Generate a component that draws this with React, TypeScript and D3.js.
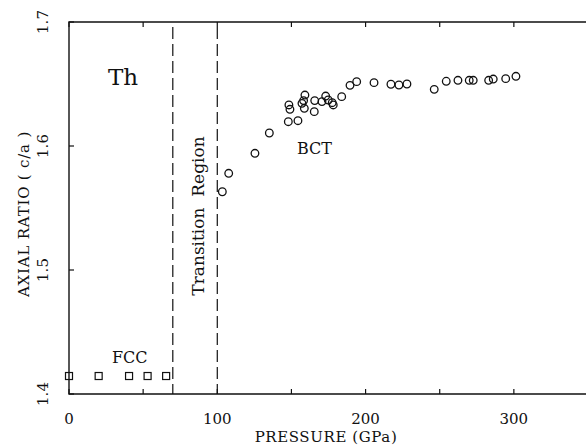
import React from "react";
import * as d3 from "d3";

const fccPressure = [0, 20, 40.5, 53, 65.5];
const fccRatio = [1.4145, 1.4145, 1.4145, 1.4145, 1.4145];

const bctPressure = [103.4, 107.7, 125.4, 135.1, 147.9, 154.4, 148.3, 149.0, 157.1, 159.1, 158.7, 158.2, 165.4, 165.7, 170.6, 173.1, 174.8, 177.5, 178.2, 183.9, 189.5, 194.0, 205.7, 217.1, 222.5, 227.9, 246.3, 254.4, 262.3, 269.9, 272.6, 283.0, 286.1, 294.5, 301.4];
const bctRatio = [1.5631, 1.578, 1.5941, 1.6105, 1.6196, 1.6204, 1.6331, 1.6296, 1.6344, 1.6411, 1.6304, 1.6366, 1.6277, 1.6366, 1.6358, 1.6403, 1.6371, 1.6349, 1.6331, 1.6398, 1.6489, 1.6519, 1.6511, 1.6498, 1.6492, 1.65, 1.6457, 1.6522, 1.653, 1.653, 1.653, 1.653, 1.654, 1.6543, 1.6562];

const xTicks = [0, 50, 100, 150, 200, 250, 300];
const xTickLabels = [0, 100, 200, 300];
const yTicks = [1.4, 1.5, 1.6, 1.7];
const transitionBounds = [70, 100];

const FONT = "'DejaVu Serif', serif";

export default function App() {
  const x = d3.scaleLinear().domain([0, 350]).range([69, 588]);
  const y = d3.scaleLinear().domain([1.4, 1.7]).range([394, 22]);
  const x0 = x(0), x1 = x(350), y0 = y(1.4), y1 = y(1.7);
  const ink = "#111";
  return (
    <svg width={586} height={446} style={{ position: "absolute", left: 0, top: 0, background: "#fff" }}>
      <path d={`M${x1},${y1}H${x0}V${y0}H${x1}`} fill="none" stroke={ink} strokeWidth={1.4} />
      {xTicks.map((t) => (
        <g key={"xt" + t}>
          <line x1={x(t)} x2={x(t)} y1={y0} y2={y0 - 5} stroke={ink} strokeWidth={1.2} />
          <line x1={x(t)} x2={x(t)} y1={y1} y2={y1 + 5} stroke={ink} strokeWidth={1.2} />
        </g>
      ))}
      {yTicks.map((t) => (
        <line key={"yt" + t} x1={x0} x2={x0 + 5} y1={y(t)} y2={y(t)} stroke={ink} strokeWidth={1.2} />
      ))}
      {xTickLabels.map((t) => (
        <text key={"xl" + t} x={x(t)} y={424} textAnchor="middle" fontFamily={FONT} fontSize={15} fill={ink}>
          {t}
        </text>
      ))}
      {yTicks.map((t) => (
        <text key={"yl" + t} transform={`translate(48,${y(t)}) rotate(-90)`} textAnchor="middle" fontFamily={FONT} fontSize={15} fill={ink}>
          {t.toFixed(1)}
        </text>
      ))}
      <text x={326} y={442} textAnchor="middle" fontFamily={FONT} fontSize={15} letterSpacing={0.6} fill={ink}>
        PRESSURE (GPa)
      </text>
      <text transform={`translate(29,214) rotate(-90)`} textAnchor="middle" fontFamily={FONT} fontSize={15} letterSpacing={0.8} fill={ink} style={{ whiteSpace: "pre" }}>
        AXIAL RATIO ( c/a )
      </text>
      {transitionBounds.map((b) => (
        <line key={"tb" + b} x1={x(b)} x2={x(b)} y1={y1 + 5} y2={y0} stroke={ink} strokeWidth={1.2} strokeDasharray="12,5" />
      ))}
      <text transform={`translate(204,216) rotate(-90)`} textAnchor="middle" fontFamily={FONT} fontSize={17} fill={ink} style={{ whiteSpace: "pre" }}>
        Transition  Region
      </text>
      <text x={108} y={85} fontFamily={FONT} fontSize={23} fill={ink}>Th</text>
      <text x={297} y={154} fontFamily={FONT} fontSize={16} fill={ink}>BCT</text>
      <text x={112} y={363} fontFamily={FONT} fontSize={16} fill={ink}>FCC</text>
      {fccPressure.map((p, i) => (
        <rect key={"f" + i} x={x(p) - 3.5} y={y(fccRatio[i]) - 3.5} width={7} height={7} fill="none" stroke={ink} strokeWidth={1.2} />
      ))}
      {bctPressure.map((p, i) => (
        <circle key={"b" + i} cx={x(p)} cy={y(bctRatio[i])} r={3.8} fill="none" stroke={ink} strokeWidth={1.3} />
      ))}
    </svg>
  );
}
